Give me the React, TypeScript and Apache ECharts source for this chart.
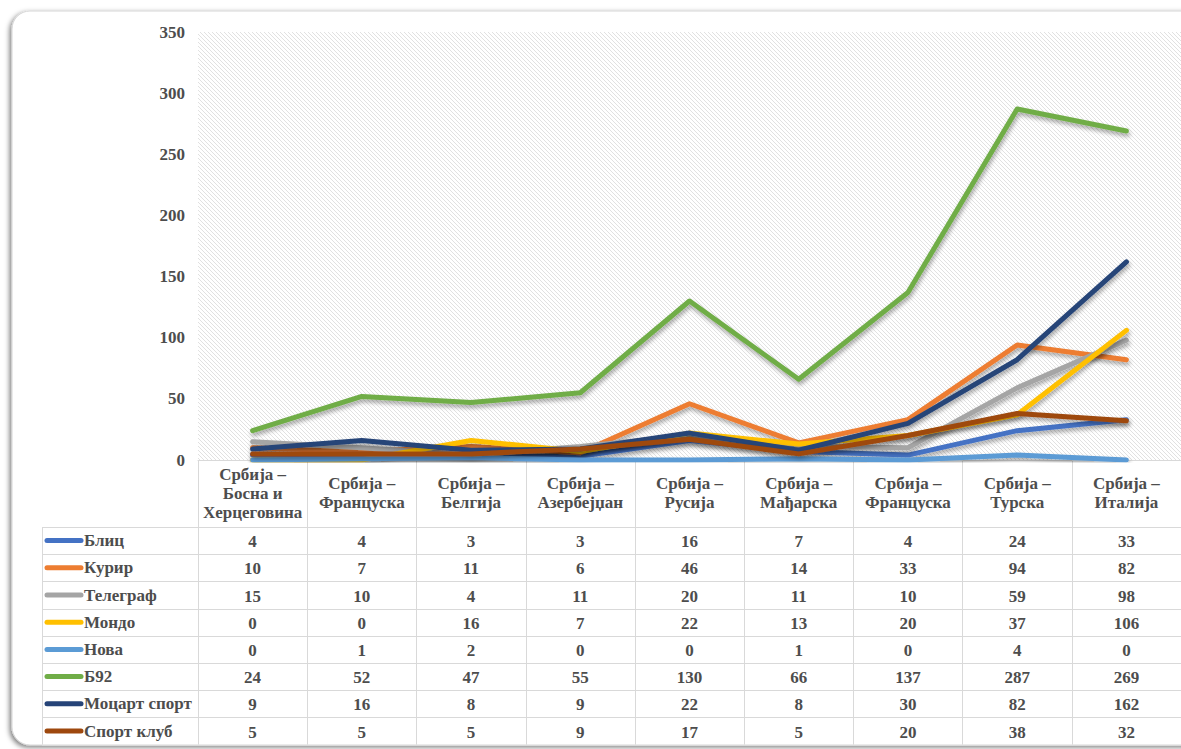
import React, { useEffect, useRef } from "react";
import * as echarts from "echarts";

const categories = [
  "Србија –\nБосна и\nХерцеговина",
  "Србија –\nФранцуска",
  "Србија –\nБелгија",
  "Србија –\nАзербејџан",
  "Србија –\nРусија",
  "Србија –\nМађарска",
  "Србија –\nФранцуска",
  "Србија –\nТурска",
  "Србија –\nИталија",
];

const seriesNames = ["Блиц", "Курир", "Телеграф", "Мондо", "Нова", "Б92", "Моцарт спорт", "Спорт клуб"];
const blic = [4, 4, 3, 3, 16, 7, 4, 24, 33];
const kurir = [10, 7, 11, 6, 46, 14, 33, 94, 82];
const telegraf = [15, 10, 4, 11, 20, 11, 10, 59, 98];
const mondo = [0, 0, 16, 7, 22, 13, 20, 37, 106];
const nova = [0, 1, 2, 0, 0, 1, 0, 4, 0];
const b92 = [24, 52, 47, 55, 130, 66, 137, 287, 269];
const mocart = [9, 16, 8, 9, 22, 8, 30, 82, 162];
const sportKlub = [5, 5, 5, 9, 17, 5, 20, 38, 32];
const seriesData = [blic, kurir, telegraf, mondo, nova, b92, mocart, sportKlub];
const colors = ["#4472C4", "#ED7D31", "#A5A5A5", "#FFC000", "#5B9BD5", "#70AD47", "#264478", "#9E480E"];
const yTicks = { min: 0, max: 350, interval: 50 };

const TXT = "#4d4d4d";
const FONT = "'Liberation Serif', 'Times New Roman', serif";

const hatchSvg =
  "<svg xmlns='http://www.w3.org/2000/svg' width='4' height='4'>" +
  "<rect width='4' height='4' fill='#ffffff'/>" +
  "<path d='M-1,3 L1,5 M-1,-1 L5,5 M3,-1 L5,1' stroke='#dedede' stroke-width='0.9'/></svg>";
const hatchUrl = "data:image/svg+xml;charset=utf-8," + encodeURIComponent(hatchSvg);

export default function App() {
  const ref = useRef<HTMLDivElement>(null);
  useEffect(() => {
    if (!ref.current) return;
    const chart = echarts.init(ref.current, null, { renderer: "svg" });
    const gridLeft = 198;
    const gridTop = 32;
    const gridBottomY = 460;
    const gridWidth = 985;
    const option: any = {
      animation: false,
      backgroundColor: "transparent",
      grid: {
        left: gridLeft,
        top: gridTop,
        width: gridWidth,
        height: gridBottomY - gridTop,
        show: true,
        backgroundColor: { image: hatchUrl, repeat: "repeat" },
        borderWidth: 0,
        z: 1,
      },
      xAxis: {
        type: "category",
        data: categories,
        boundaryGap: true,
        axisLine: { show: true, lineStyle: { color: "#d9d9d9", width: 1 } },
        axisTick: { show: false },
        splitLine: { show: true, lineStyle: { color: "#e4e4e4", width: 1 } },
        axisLabel: {
          interval: 0,
          color: TXT,
          fontFamily: FONT,
          fontWeight: "bold",
          fontSize: 17,
          lineHeight: 19,
          verticalAlign: "middle",
          margin: 33,
        },
      },
      yAxis: {
        type: "value",
        min: yTicks.min,
        max: yTicks.max,
        interval: yTicks.interval,
        axisLine: {
          show: true,
          lineStyle: { color: "#bfbfbf", width: 2, shadowBlur: 3, shadowColor: "rgba(0,0,0,0.35)", shadowOffsetX: -1 },
        },
        axisTick: { show: false },
        splitLine: { show: true, lineStyle: { color: "#e4e4e4", width: 1 } },
        axisLabel: {
          color: TXT,
          fontFamily: FONT,
          fontWeight: "bold",
          fontSize: 17,
          margin: 13,
        },
      },
      series: seriesNames.map((name, i) => ({
        name,
        type: "line",
        data: seriesData[i],
        symbol: "none",
        z: 3 + i,
        lineStyle: {
          color: colors[i],
          width: 5,
          cap: "round",
          join: "round",
          shadowBlur: 4,
          shadowColor: "rgba(0,0,0,0.35)",
          shadowOffsetX: 1,
          shadowOffsetY: 3,
        },
      })),
    };
    chart.setOption(option);

    // table
    const rowTop = 527;
    const rowH = 27.2;
    const tableLeft = 42;
    const tableRight = 1181;
    const colEdges: number[] = [];
    const half = gridWidth / categories.length / 2;
    for (let i = 0; i <= categories.length; i++) {
      const idx = i < categories.length ? i : i - 1;
      const c = chart.convertToPixel({ xAxisIndex: 0 }, idx) as number;
      colEdges.push(i < categories.length ? c - half : c + half);
    }
    const g: any[] = [];
    g.push({
      type: "rect",
      z: -10,
      silent: true,
      shape: { x: 12, y: 11, width: 1200, height: 734, r: 18 },
      style: {
        fill: "#ffffff",
        stroke: "#d6d6d6",
        lineWidth: 1,
        shadowBlur: 5,
        shadowColor: "rgba(0,0,0,0.5)",
        shadowOffsetX: -2,
        shadowOffsetY: 2,
      },
    });
    const nRows = seriesNames.length;
    const tableBottom = rowTop + nRows * rowH;
    for (let r = 0; r <= nRows; r++) {
      const y = Math.round(rowTop + r * rowH) + 0.5;
      g.push({ type: "line", z: 2, shape: { x1: tableLeft, y1: y, x2: tableRight, y2: y }, style: { stroke: "#d9d9d9", lineWidth: 1 } });
    }
    g.push({ type: "line", z: 2, shape: { x1: tableLeft + 0.5, y1: rowTop, x2: tableLeft + 0.5, y2: tableBottom }, style: { stroke: "#d9d9d9", lineWidth: 1 } });
    colEdges.forEach((x) => {
      g.push({ type: "line", z: 2, shape: { x1: Math.round(x) + 0.5, y1: gridBottomY, x2: Math.round(x) + 0.5, y2: tableBottom }, style: { stroke: "#d9d9d9", lineWidth: 1 } });
    });
    seriesNames.forEach((name, r) => {
      const cy = rowTop + r * rowH + rowH / 2;
      g.push({ type: "line", z: 3, shape: { x1: 47, y1: cy, x2: 81, y2: cy }, style: { stroke: colors[r], lineWidth: 5, lineCap: "round" } });
      g.push({
        type: "text", z: 3, x: 84, y: cy,
        style: { text: name, fill: TXT, font: `bold 17px ${FONT}`, textAlign: "left", textVerticalAlign: "middle" },
      });
      seriesData[r].forEach((v, c) => {
        const cx = chart.convertToPixel({ xAxisIndex: 0 }, c) as number;
        g.push({
          type: "text", z: 3, x: cx, y: cy + 1,
          style: { text: String(v), fill: TXT, font: `bold 17px ${FONT}`, textAlign: "center", textVerticalAlign: "middle" },
        });
      });
    });
    chart.setOption({ graphic: g });
    return () => chart.dispose();
  }, []);
  return <div ref={ref} style={{ position: "fixed", left: 0, top: 0, width: 1181, height: 749, background: "#ffffff" }} />;
}
